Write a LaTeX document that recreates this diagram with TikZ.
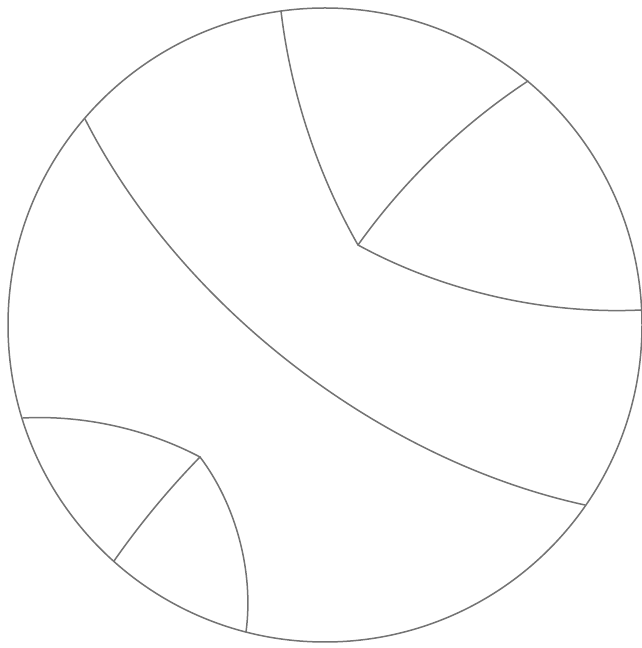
\documentclass[tikz,border=0pt]{standalone}
\definecolor{pencil}{RGB}{115,115,115}
\begin{document}
\begin{tikzpicture}[x=1pt,y=1pt,
  stroke/.style={draw=pencil,line width=1.5pt,line cap=round,line join=round},
  geo/.style={stroke,looseness=0.85}]
\fill[white] (0,0) rectangle (642,648);
\useasboundingbox (0,0) rectangle (642,648);
% disk
\coordinate (O) at (325,323);
\draw[stroke] (O) circle[radius=317];
% points
\coordinate (P) at (85,529);
\coordinate (S) at (585,143);
\coordinate (T) at (281,637);
\coordinate (V) at (358,403);
\coordinate (U) at (528,567);
\coordinate (W) at (641,338);
\coordinate (L) at (23,230);
\coordinate (V2) at (200,191);
\coordinate (B) at (246,16);
\coordinate (M) at (114,87);
% curves
\draw[geo] (P) to[bend right=25.4] (S);
\draw[geo] (T) to[bend right=11.5] (V);
\draw[geo] (V) to[bend left=10.6] (U);
\draw[geo] (V) to[bend right=15.7] (W);
\draw[geo] (L) to[bend left=15.4] (V2);
\draw[geo] (V2) to[bend left=22.4] (B);
\draw[geo] (V2) to[bend right=4.7] (M);
\end{tikzpicture}
\end{document}
